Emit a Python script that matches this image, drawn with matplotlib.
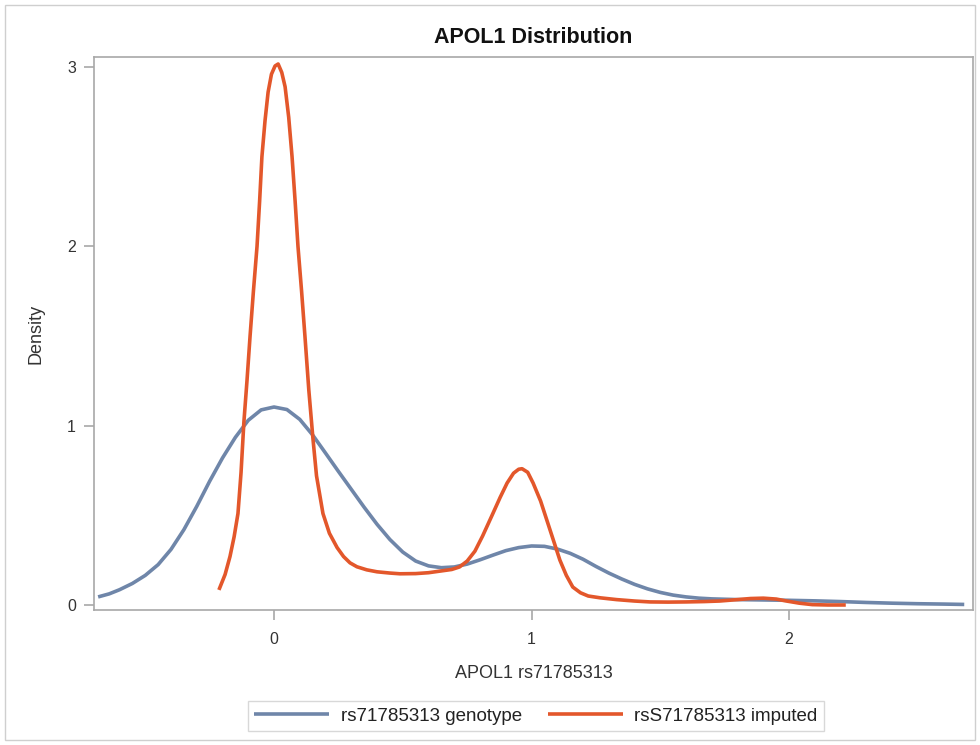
import matplotlib
matplotlib.use("Agg")
import matplotlib.pyplot as plt
from matplotlib.patches import Rectangle

plt.rcParams['font.family'] = ['Liberation Sans', 'DejaVu Sans']

# Data
genotype_x = [-0.683, -0.64, -0.60, -0.55, -0.50, -0.45, -0.40, -0.35, -0.30, -0.25,
              -0.20, -0.15, -0.10, -0.05, 0.00, 0.05, 0.10, 0.15, 0.20, 0.25,
              0.30, 0.35, 0.40, 0.45, 0.50, 0.55, 0.60, 0.65, 0.70, 0.75,
              0.80, 0.85, 0.90, 0.95, 1.00, 1.05, 1.10, 1.15, 1.20, 1.25,
              1.30, 1.35, 1.40, 1.45, 1.50, 1.55, 1.60, 1.65, 1.70, 1.80,
              1.90, 2.00, 2.10, 2.20, 2.30, 2.40, 2.50, 2.60, 2.68]
genotype_y = [0.045, 0.062, 0.085, 0.12, 0.165, 0.225, 0.31, 0.42, 0.55, 0.69,
              0.82, 0.935, 1.03, 1.088, 1.104, 1.09, 1.035, 0.948, 0.847, 0.745,
              0.645, 0.545, 0.45, 0.365, 0.295, 0.245, 0.218, 0.208, 0.212, 0.228,
              0.252, 0.278, 0.303, 0.32, 0.329, 0.327, 0.312, 0.288, 0.255, 0.215,
              0.178, 0.145, 0.115, 0.09, 0.07, 0.055, 0.045, 0.038, 0.034, 0.030,
              0.028, 0.026, 0.023, 0.019, 0.014, 0.010, 0.007, 0.005, 0.003]

imputed_x = [-0.214, -0.19, -0.171, -0.155, -0.14, -0.128, -0.117, -0.105, -0.093, -0.08,
             -0.066, -0.056, -0.047, -0.035, -0.023, -0.01, 0.004, 0.016, 0.03, 0.043,
             0.057, 0.07, 0.082, 0.093, 0.107, 0.12, 0.135, 0.151, 0.165, 0.19,
             0.215, 0.245, 0.27, 0.295, 0.322, 0.36, 0.40, 0.45, 0.489, 0.55,
             0.60, 0.65, 0.69, 0.72, 0.75, 0.78, 0.81, 0.845, 0.878, 0.905,
             0.93, 0.95, 0.963, 0.985, 1.006, 1.035, 1.06, 1.085, 1.11, 1.135, 1.16,
             1.19, 1.22, 1.266, 1.33, 1.40, 1.46, 1.53, 1.60, 1.67, 1.73,
             1.80, 1.85, 1.90, 1.95, 1.99, 2.04, 2.09, 2.15, 2.22]
imputed_y = [0.084, 0.17, 0.27, 0.38, 0.51, 0.74, 1.02, 1.25, 1.50, 1.75,
             2.0, 2.25, 2.50, 2.70, 2.86, 2.96, 3.006, 3.017, 2.97, 2.89,
             2.72, 2.50, 2.25, 2.0, 1.75, 1.50, 1.20, 0.93, 0.72, 0.51,
             0.40, 0.32, 0.27, 0.235, 0.213, 0.196, 0.185, 0.178, 0.174, 0.175,
             0.18, 0.19, 0.198, 0.212, 0.245, 0.30, 0.385, 0.495, 0.60, 0.68,
             0.735, 0.757, 0.76, 0.74, 0.68, 0.58, 0.47, 0.36, 0.25, 0.165, 0.10,
             0.068, 0.05, 0.04, 0.03, 0.022, 0.017, 0.016, 0.017, 0.019, 0.022,
             0.03, 0.036, 0.038, 0.033, 0.022, 0.01, 0.002, 0.0, 0.0]

x_ticks = [0, 1, 2]
y_ticks = [0, 1, 2, 3]
series_labels = ["rs71785313 genotype", "rsS71785313 imputed"]
title = "APOL1 Distribution"
x_label = "APOL1 rs71785313"
y_label = "Density"

blue = "#6F86A9"
orange = "#E3572B"
gray = "#A8A8A8"

fig = plt.figure(figsize=(9.8, 7.45), dpi=100)
# outer border
fig.patches.append(Rectangle((5/980, 5/745), 970/980, 735/745, transform=fig.transFigure,
                             fill=False, edgecolor="#CFCFCF", linewidth=1.0))

ax = fig.add_axes([94/980, (745-610)/745, (973-94)/980, (610-57)/745])
ax.plot(genotype_x, genotype_y, color=blue, linewidth=2.6, label=series_labels[0],
        solid_joinstyle='round', solid_capstyle='butt')
ax.plot(imputed_x, imputed_y, color=orange, linewidth=2.6, label=series_labels[1],
        solid_joinstyle='round', solid_capstyle='butt')

ax.set_xlim(-0.699, 2.714)
ax.set_ylim(-0.028, 3.056)
ax.set_xticks(x_ticks)
ax.set_yticks(y_ticks)
ax.tick_params(axis='both', colors=gray, length=7, width=1.2, labelsize=11.5,
               labelcolor="#333333", pad=6)
ax.tick_params(axis='x', pad=9)
for s in ax.spines.values():
    s.set_color(gray)
    s.set_linewidth(1.2)

ax.set_title(title, fontsize=15.5, fontweight='bold', pad=10, color="#111111")
ax.set_xlabel(x_label, fontsize=13, color="#333333", labelpad=13)
ax.set_ylabel(y_label, fontsize=13, color="#333333", labelpad=16)

leg = fig.legend(loc='center', bbox_to_anchor=(536/980, (745-716)/745), ncol=2,
                 frameon=True, fancybox=False, fontsize=13.5, handlelength=4.0,
                 handletextpad=0.6, columnspacing=1.4, borderpad=0.35,
                 edgecolor="#CFCFCF")
leg.get_frame().set_linewidth(1.0)
for t in leg.get_texts():
    t.set_color("#222222")

fig.savefig("out.png", dpi=100)
